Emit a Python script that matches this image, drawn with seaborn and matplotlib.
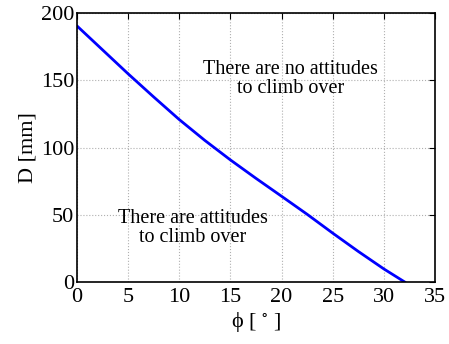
import matplotlib
matplotlib.use("Agg")
import matplotlib.pyplot as plt
import seaborn as sns
import pandas as pd

phi = [0, 2.5, 5, 7.5, 10, 12.5, 15, 17.5, 20, 22.5, 25, 27.5, 30, 32.1]
D = [190.6, 172.8, 155.0, 137.8, 121.0, 105.5, 91.0, 77.3, 64.0, 50.6, 36.6, 23.0, 10.0, 0.0]
xticks = [0, 5, 10, 15, 20, 25, 30, 35]
yticks = [0, 50, 100, 150, 200]

sns.set_theme(style="white")
plt.rcParams['font.family'] = ['Liberation Serif', 'DejaVu Serif']
plt.rcParams['mathtext.fontset'] = 'stix'
plt.rcParams['text.color'] = 'black'
plt.rcParams['axes.labelcolor'] = 'black'

df = pd.DataFrame({"phi": phi, "D": D})

fig = plt.figure(figsize=(4.49, 3.44), dpi=100)
ax = fig.add_axes([0.171, 0.179, 0.798, 0.783])
sns.lineplot(data=df, x="phi", y="D", ax=ax, color=(0, 0, 1), linewidth=2)

ax.set_xlim(0, 35)
ax.set_ylim(0, 200)
ax.set_xticks(xticks)
ax.set_yticks(yticks)
ax.tick_params(direction='in', length=4, width=0.8, top=True, right=True,
               labelsize=16, colors='black')
ax.tick_params(axis='x', pad=4)
ax.tick_params(axis='y', pad=2)
ax.grid(True, linestyle=':', color='#b0b0b0', linewidth=0.8)
for s in ax.spines.values():
    s.set_color('black')
    s.set_linewidth(1.2)

ax.set_xlabel('ϕ [ $^{\\circ}$ ]', fontsize=16, labelpad=2)
ax.set_ylabel('D [mm]', fontsize=16, labelpad=2)

ax.text(20.9, 151, 'There are no attitudes\nto climb over', ha='center', va='center',
        fontsize=14.5, linespacing=1.05)
ax.text(11.3, 40.5, 'There are attitudes\nto climb over', ha='center', va='center',
        fontsize=14.5, linespacing=1.05)

fig.savefig('out.png', dpi=100)
